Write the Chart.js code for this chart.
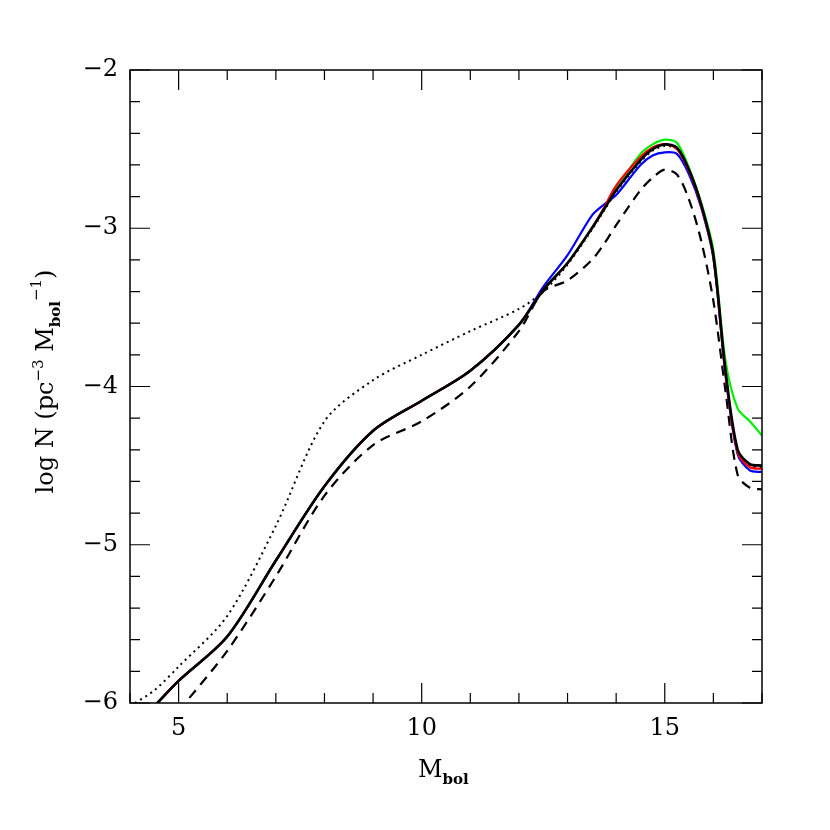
<!DOCTYPE html>
<html>
<head>
<meta charset="utf-8">
<script src="https://cdn.jsdelivr.net/npm/chart.js@4"></script>
<style>
  html, body { margin: 0; padding: 0; background: #fff; }
  #wrap { width: 830px; height: 830px; }
</style>
</head>
<body>
<div id="wrap"><canvas id="lf"></canvas></div>
<script>
// M_bol grid
var mbol = [4, 4.5, 5, 6, 7, 8, 9, 10, 11, 12, 12.5, 13, 13.5, 13.75, 14, 14.5, 14.75, 15, 15.25, 15.5, 15.75, 16, 16.25, 16.5, 16.75, 17];

var solidBlack = [null, -6.02, -5.86, -5.58, -5.10, -4.63, -4.28, -4.09, -3.90, -3.61, -3.39, -3.22, -3.00, -2.88, -2.76, -2.57, -2.50, -2.47, -2.49, -2.63, -2.85, -3.17, -3.90, -4.40, -4.49, -4.50];
var dotted     = [-6.02, -5.92, -5.77, -5.45, -4.88, -4.22, -3.96, -3.80, -3.65, -3.51, -3.40, -3.23, -3.01, -2.89, -2.77, -2.58, -2.51, -2.48, -2.50, -2.64, -2.86, -3.18, -3.91, -4.41, -4.50, -4.51];
var dashed     = [null, null, -6.05, -5.67, -5.20, -4.69, -4.37, -4.22, -4.00, -3.65, -3.40, -3.33, -3.20, -3.10, -2.98, -2.76, -2.68, -2.63, -2.66, -2.82, -3.08, -3.46, -4.03, -4.56, -4.64, -4.65];
var green      = [null, -6.02, -5.86, -5.58, -5.10, -4.63, -4.28, -4.09, -3.90, -3.61, -3.39, -3.22, -3.00, -2.88, -2.75, -2.53, -2.47, -2.44, -2.46, -2.62, -2.84, -3.14, -3.84, -4.14, -4.22, -4.31];
var red        = [null, -6.02, -5.86, -5.58, -5.10, -4.63, -4.28, -4.09, -3.90, -3.61, -3.39, -3.22, -3.00, -2.87, -2.73, -2.55, -2.49, -2.47, -2.50, -2.64, -2.86, -3.18, -3.92, -4.42, -4.51, -4.52];
var blue       = [null, -6.02, -5.86, -5.58, -5.10, -4.63, -4.28, -4.09, -3.90, -3.61, -3.37, -3.17, -2.92, -2.85, -2.79, -2.60, -2.54, -2.52, -2.53, -2.66, -2.87, -3.19, -3.93, -4.43, -4.53, -4.54];

var xTickLabels = [5, 10, 15];
var yTickLabels = [-2, -3, -4, -5, -6];

function pts(arr) {
  var out = [];
  for (var i = 0; i < mbol.length; i++) {
    if (arr[i] !== null) out.push({ x: mbol[i], y: arr[i] });
  }
  return out;
}

// order: lower number is drawn on top
function ds(data, color, width, dash, order) {
  return {
    data: pts(data), borderColor: color, borderWidth: width, borderDash: dash || [],
    pointRadius: 0, tension: 0.3, fill: false, order: order
  };
}

var FONT = '"DejaVu Serif", serif';

// frame, inward ticks and axis text
var framePlugin = {
  id: 'frame',
  afterDatasetsDraw: function(chart) {
    var c = chart.ctx, a = chart.chartArea, sx = chart.scales.x, sy = chart.scales.y;
    c.save();
    c.strokeStyle = '#000'; c.lineWidth = 1.5;
    c.strokeRect(a.left, a.top, a.right - a.left, a.bottom - a.top);
    c.lineWidth = 1.2;
    for (var v = 4; v <= 17.001; v += 1) {
      var px = sx.getPixelForValue(v), len = (v % 5 === 0) ? 20 : 10;
      c.beginPath();
      c.moveTo(px, a.bottom); c.lineTo(px, a.bottom - len);
      c.moveTo(px, a.top); c.lineTo(px, a.top + len);
      c.stroke();
    }
    for (var k = 0; k <= 20; k++) {
      var val = -6 + k * 0.2, py = sy.getPixelForValue(val), l2 = (k % 5 === 0) ? 20 : 10;
      c.beginPath();
      c.moveTo(a.left, py); c.lineTo(a.left + l2, py);
      c.moveTo(a.right, py); c.lineTo(a.right - l2, py);
      c.stroke();
    }
    c.fillStyle = '#000';
    c.font = '24px ' + FONT;
    c.textAlign = 'center'; c.textBaseline = 'top';
    xTickLabels.forEach(function(t) { c.fillText(String(t), sx.getPixelForValue(t), a.bottom + 14); });
    c.textAlign = 'right'; c.textBaseline = 'middle';
    yTickLabels.forEach(function(t) { c.fillText('\u2212' + Math.abs(t), a.left - 12, sy.getPixelForValue(t)); });

    // x title
    c.textAlign = 'left'; c.textBaseline = 'alphabetic';
    var xm = (a.left + a.right) / 2 - 28;
    c.font = '24px ' + FONT; c.fillText('M', xm, 777);
    var wM = c.measureText('M').width;
    c.font = 'bold 15px ' + FONT; c.fillText('bol', xm + wM, 784);

    // y title, rotated
    c.translate(45, (a.top + a.bottom) / 2);
    c.rotate(-Math.PI / 2);
    var parts = [
      ['log N (pc', '24px', 0], ['\u22123', '15px', -10], [' M', '24px', 0],
      ['bol', 'bold 15px', 7], ['\u22121', '15px', -12], [')', '24px', 0]
    ];
    var total = 0;
    parts.forEach(function(p) { c.font = p[1] + ' ' + FONT; total += c.measureText(p[0]).width; });
    var x0 = -total / 2 + 5;
    parts.forEach(function(p) {
      c.font = p[1] + ' ' + FONT;
      c.fillText(p[0], x0, 8 + p[2]);
      x0 += c.measureText(p[0]).width;
    });
    c.restore();
  }
};

window.onload = function() {
  var ctx = document.getElementById('lf').getContext('2d');
  new Chart(ctx, {
    type: 'line',
    data: {
      datasets: [
        ds(solidBlack, '#000', 2.6, [], 1),
        ds(red, '#ff0000', 2.2, [], 2),
        ds(blue, '#0000ff', 2.2, [], 3),
        ds(green, '#00ee00', 2.2, [], 4),
        ds(dashed, '#000', 2.2, [10, 7], 5),
        ds(dotted, '#000', 2, [2, 4], 6)
      ]
    },
    options: {
      responsive: true, maintainAspectRatio: false, animation: false,
      layout: { padding: { left: 130, right: 68, top: 70, bottom: 127 } },
      plugins: { legend: { display: false }, tooltip: { enabled: false } },
      scales: {
        x: { type: 'linear', min: 4, max: 17, display: false },
        y: { type: 'linear', min: -6, max: -2, display: false }
      }
    },
    plugins: [framePlugin]
  });
};
</script>
</body>
</html>
